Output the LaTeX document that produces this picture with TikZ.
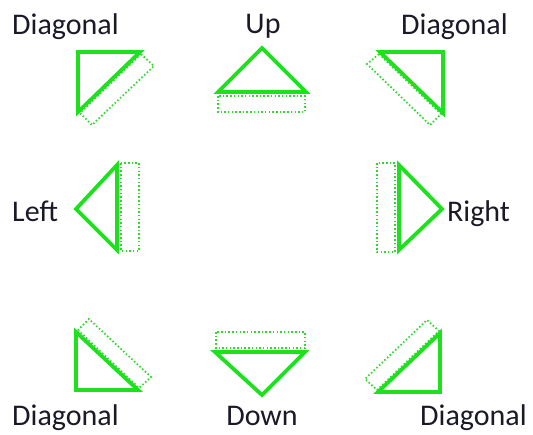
\documentclass[tikz,border=0pt]{standalone}
\usepackage{fontspec}
\setmainfont{Carlito}
\definecolor{grn}{RGB}{30,225,30}
\definecolor{grnd}{RGB}{50,215,50}
\definecolor{txt}{RGB}{25,25,40}
\begin{document}
\begin{tikzpicture}[x=1pt,y=-1pt,
  tri/.style={draw=grn,line width=3.8pt,line join=miter},
  dotbox/.style={draw=grnd,line width=1.8pt,dash pattern=on 1.5pt off 2.2pt},
  lbl/.style={text=txt,font=\fontsize{30}{33}\selectfont,inner sep=0pt}]
\useasboundingbox (0,0) rectangle (533,434);
% top-left
\draw[dotbox] (141,54) -- (80,113) -- (92,125) -- (154,66) -- cycle;
\draw[tri] (78,52) -- (140,52) -- (78,112) -- cycle;
% up
\draw[dotbox] (218,96) rectangle (305,112);
\draw[tri] (218,92) -- (306,92) -- (262,48) -- cycle;
% top-right
\draw[dotbox] (379,54) -- (441,114) -- (430,125) -- (367,64) -- cycle;
\draw[tri] (380,52) -- (443,52) -- (443,113) -- cycle;
% left
\draw[dotbox] (121,163) rectangle (139,251);
\draw[tri] (117,165) -- (76,209) -- (117,250) -- cycle;
% right
\draw[dotbox] (377,163) rectangle (395,252);
\draw[tri] (399,165) -- (442,209) -- (399,250) -- cycle;
% bottom-left
\draw[dotbox] (78,330) -- (139,388) -- (151,377) -- (89,319) -- cycle;
\draw[tri] (76,332) -- (76,390) -- (138,390) -- cycle;
% down
\draw[dotbox] (216,332) rectangle (305,348);
\draw[tri] (215,352) -- (305,352) -- (262,395) -- cycle;
% bottom-right
\draw[dotbox] (377,390) -- (439,331) -- (427,320) -- (365,379) -- cycle;
\draw[tri] (378,392) -- (440,392) -- (440,333) -- cycle;
% labels
\node[lbl,anchor=base west] (dtl) at (12,34) {Diagonal};
\node[lbl,anchor=base] (up) at (263,33) {Up};
\node[lbl,anchor=base west] (dtr) at (401,34) {Diagonal};
\node[lbl,anchor=base west] (left) at (12,221) {Left};
\node[lbl,anchor=base west] (right) at (447,221) {Right};
\node[lbl,anchor=base west] (dbl) at (12,425) {Diagonal};
\node[lbl,anchor=base] (down) at (262,425) {Down};
\node[lbl,anchor=base west] (dbr) at (420,425) {Diagonal};
\end{tikzpicture}
\end{document}
